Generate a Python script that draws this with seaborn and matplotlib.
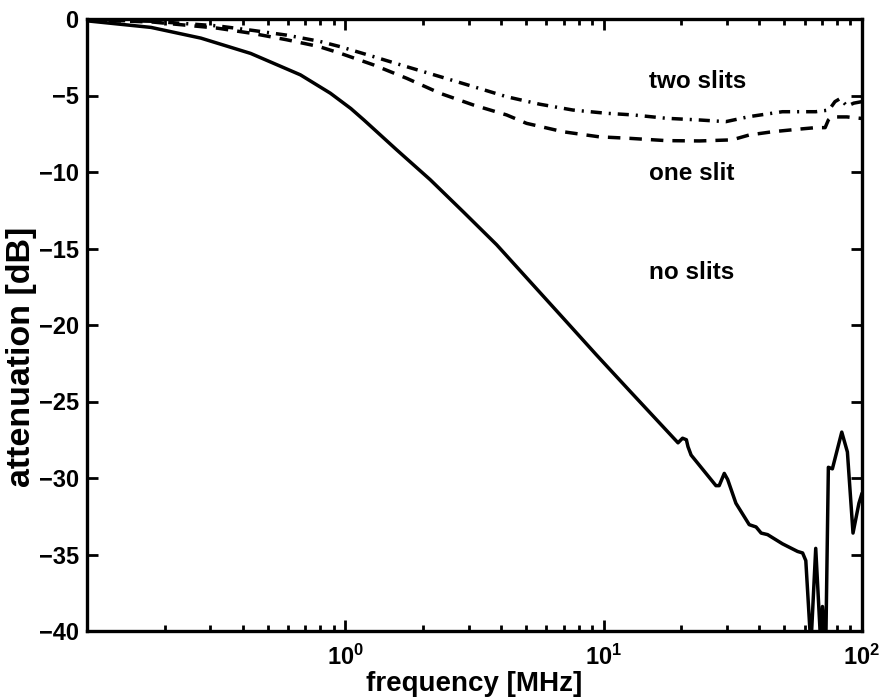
import numpy as np
import pandas as pd
import matplotlib
matplotlib.use("Agg")
import matplotlib.pyplot as plt
import seaborn as sns

# ---- data ----
freq_no = [0.1, 0.177, 0.276, 0.43, 0.67, 0.875, 1.05, 1.18, 1.58, 2.13, 2.86, 3.85,
           5.18, 6.97, 9.37, 12.6, 19.4, 20.2, 20.9, 21.2, 21.8, 27.2, 28.0, 29.3,
           30.2, 32.5, 36.6, 38.9, 40.7, 43.1, 49.2, 56.3, 58.9, 60.6, 63.4, 66.2,
           69.3, 70.3, 72.4, 74.1, 76.8, 83.5, 87.8, 92.3, 97.3, 100.0]
att_no = [-0.12, -0.55, -1.25, -2.25, -3.65, -4.85, -5.85, -6.6, -8.55, -10.5, -12.6, -14.75,
          -17.15, -19.55, -21.95, -24.3, -27.7, -27.4, -27.5, -27.95, -28.5, -30.5, -30.5, -29.7,
          -30.1, -31.65, -33.05, -33.2, -33.6, -33.7, -34.3, -34.8, -34.9, -35.4, -41.0, -34.6,
          -41.0, -38.4, -41.0, -29.3, -29.4, -27.0, -28.3, -33.6, -31.65, -31.0]

freq_one = [0.1, 0.18, 0.32, 0.44, 0.59, 0.79, 0.956, 1.286, 1.73, 2.33, 3.13, 4.21, 5.03,
            6.97, 9.6, 12.6, 17.5, 23.5, 31.4, 36.6, 45.0, 56.9, 66.2, 72.0, 74.1, 76.1,
            81.3, 87.5, 92.9, 100.0]
att_one = [-0.05, -0.2, -0.6, -0.95, -1.35, -1.8, -2.24, -3.0, -3.88, -4.86, -5.62, -6.27, -6.82,
           -7.37, -7.7, -7.8, -7.95, -7.97, -7.9, -7.58, -7.37, -7.2, -7.1, -7.1, -6.6, -6.4,
           -6.4, -6.4, -6.45, -6.5]

freq_two = [0.1, 0.18, 0.32, 0.44, 0.59, 0.79, 0.956, 1.286, 1.73, 2.33, 3.13, 4.21, 5.66,
            7.6, 10.2, 13.0, 17.5, 23.5, 29.7, 36.6, 49.2, 66.2, 74.5, 78.6, 82.3, 87.5, 92.9, 100.0]
att_two = [-0.05, -0.15, -0.45, -0.75, -1.05, -1.45, -1.81, -2.46, -3.12, -3.77, -4.42, -5.08, -5.57,
           -5.95, -6.16, -6.27, -6.49, -6.6, -6.71, -6.38, -6.06, -6.06, -5.95, -5.4, -5.2, -5.7, -5.5, -5.4]

labels = ["two slits", "one slit", "no slits"]
label_x = [15.0, 15.0, 15.0]
label_y = [-4.5, -10.5, -17.0]

xticks = [1, 10, 100]
xticklabels = [r"$10^{0}$", r"$10^{1}$", r"$10^{2}$"]
yticks = [0, -5, -10, -15, -20, -25, -30, -35, -40]

# ---- style ----
sns.set_style("ticks")
plt.rcParams["font.family"] = ["Liberation Sans", "DejaVu Sans"]
plt.rcParams["font.weight"] = "bold"
plt.rcParams["text.color"] = "black"
plt.rcParams["axes.labelcolor"] = "black"
plt.rcParams["axes.edgecolor"] = "black"
plt.rcParams["xtick.color"] = "black"
plt.rcParams["ytick.color"] = "black"
plt.rcParams["mathtext.fontset"] = "custom"
plt.rcParams["mathtext.rm"] = "Liberation Sans:bold"
plt.rcParams["mathtext.it"] = "Liberation Sans:bold"
plt.rcParams["mathtext.bf"] = "Liberation Sans:bold"

fig = plt.figure(figsize=(8.83, 6.98), dpi=100)
ax = fig.add_axes([87 / 883, 1 - 631 / 698, (862 - 87) / 883, (631 - 19) / 698])
ax.set_xscale("log")

lw = 2.5
sns.lineplot(x=freq_no, y=att_no, ax=ax, color="black", lw=lw, sort=False)
sns.lineplot(x=freq_one, y=att_one, ax=ax, color="black", lw=lw, sort=False,
             linestyle=(0, (3.6, 2.6)))
sns.lineplot(x=freq_two, y=att_two, ax=ax, color="black", lw=lw, sort=False,
             linestyle=(0, (3.2, 2.0, 0.6, 2.0)))

for t, x, y in zip(labels, label_x, label_y):
    ax.text(x, y, t, fontsize=17.5, fontweight="bold", ha="left", va="baseline",
            color="black")

ax.set_xlim(0.1, 100)
ax.set_ylim(-40, 0)
ax.set_xticks(xticks)
ax.set_xticklabels(xticklabels)
ax.set_yticks(yticks)
ax.set_yticklabels([("\u2212" + str(-v)) if v < 0 else str(v) for v in yticks])

for s in ax.spines.values():
    s.set_linewidth(2.4)
    s.set_color("black")

ax.tick_params(axis="both", which="both", direction="in", top=True, right=True,
               width=2.0, color="black", labelcolor="black")
ax.tick_params(axis="both", which="major", length=8, labelsize=17)
ax.tick_params(axis="x", which="minor", length=4)
ax.tick_params(axis="x", which="major", pad=10)
ax.tick_params(axis="y", which="major", pad=6)

ax.set_xlabel("frequency [MHz]", fontsize=20, fontweight="bold", labelpad=1, color="black")
ax.set_ylabel("attenuation [dB]", fontsize=24.5, fontweight="bold", color="black")
ax.yaxis.set_label_coords(-0.064, 0.448)

fig.savefig("out.png", dpi=100, facecolor="white")
